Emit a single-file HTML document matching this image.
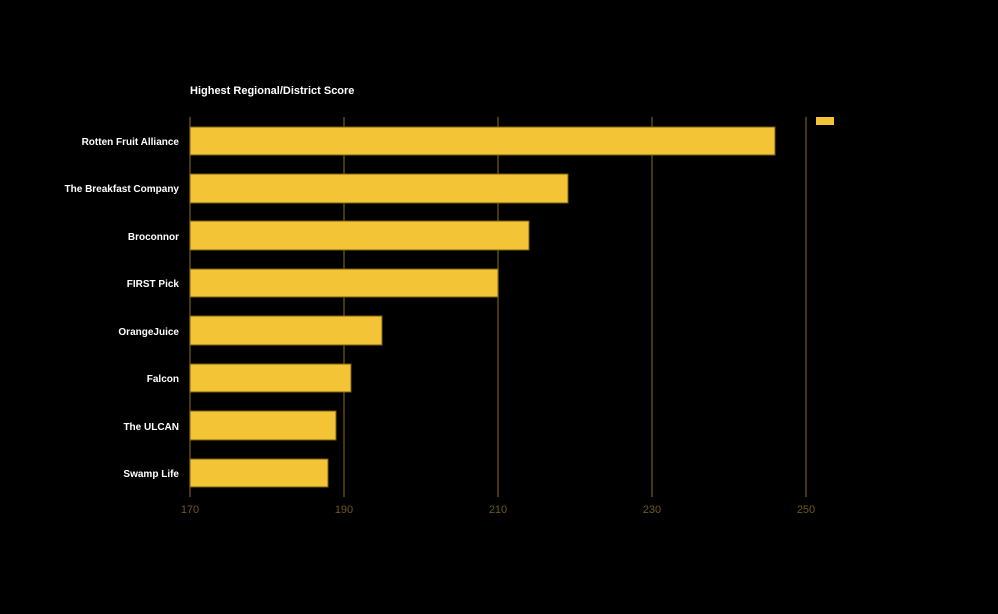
<!DOCTYPE html>
<html><head><meta charset="utf-8"><style>
html,body{margin:0;padding:0;background:#000;width:998px;height:614px;overflow:hidden}
svg{display:block}
text{font-family:"Liberation Sans",Arial,sans-serif}
</style></head><body>
<svg width="998" height="614" viewBox="0 0 998 614">
<rect width="998" height="614" fill="#000"/>
<text x="190" y="94" fill="#fff" font-size="11" font-weight="bold">Highest Regional/District Score</text>
<g stroke="#5c4a0c" stroke-width="1.5">
<line x1="190" y1="117" x2="190" y2="497"/>
<line x1="344" y1="117" x2="344" y2="497"/>
<line x1="498" y1="117" x2="498" y2="497"/>
<line x1="652" y1="117" x2="652" y2="497"/>
<line x1="806" y1="117" x2="806" y2="497"/>
</g>
<g fill="#f2c436" stroke="#7a6012" stroke-width="1">
<rect x="190" y="127" width="585" height="28"/>
<rect x="190" y="174" width="378" height="29"/>
<rect x="190" y="221" width="339" height="29"/>
<rect x="190" y="269" width="308" height="28"/>
<rect x="190" y="316" width="192" height="29"/>
<rect x="190" y="364" width="161" height="28"/>
<rect x="190" y="411" width="146" height="29"/>
<rect x="190" y="459" width="138" height="28"/>
</g>
<rect x="816" y="117" width="18" height="8" fill="#f2c436"/>
<g fill="#fff" font-size="10" font-weight="bold" text-anchor="end">
<text x="179" y="145">Rotten Fruit Alliance</text>
<text x="179" y="192">The Breakfast Company</text>
<text x="179" y="240">Broconnor</text>
<text x="179" y="287">FIRST Pick</text>
<text x="179" y="335">OrangeJuice</text>
<text x="179" y="382">Falcon</text>
<text x="179" y="430">The ULCAN</text>
<text x="179" y="477">Swamp Life</text>
</g>
<g fill="#6e5a14" font-size="11" text-anchor="middle">
<text x="190" y="513">170</text>
<text x="344" y="513">190</text>
<text x="498" y="513">210</text>
<text x="652" y="513">230</text>
<text x="806" y="513">250</text>
</g>
</svg>
</body></html>
